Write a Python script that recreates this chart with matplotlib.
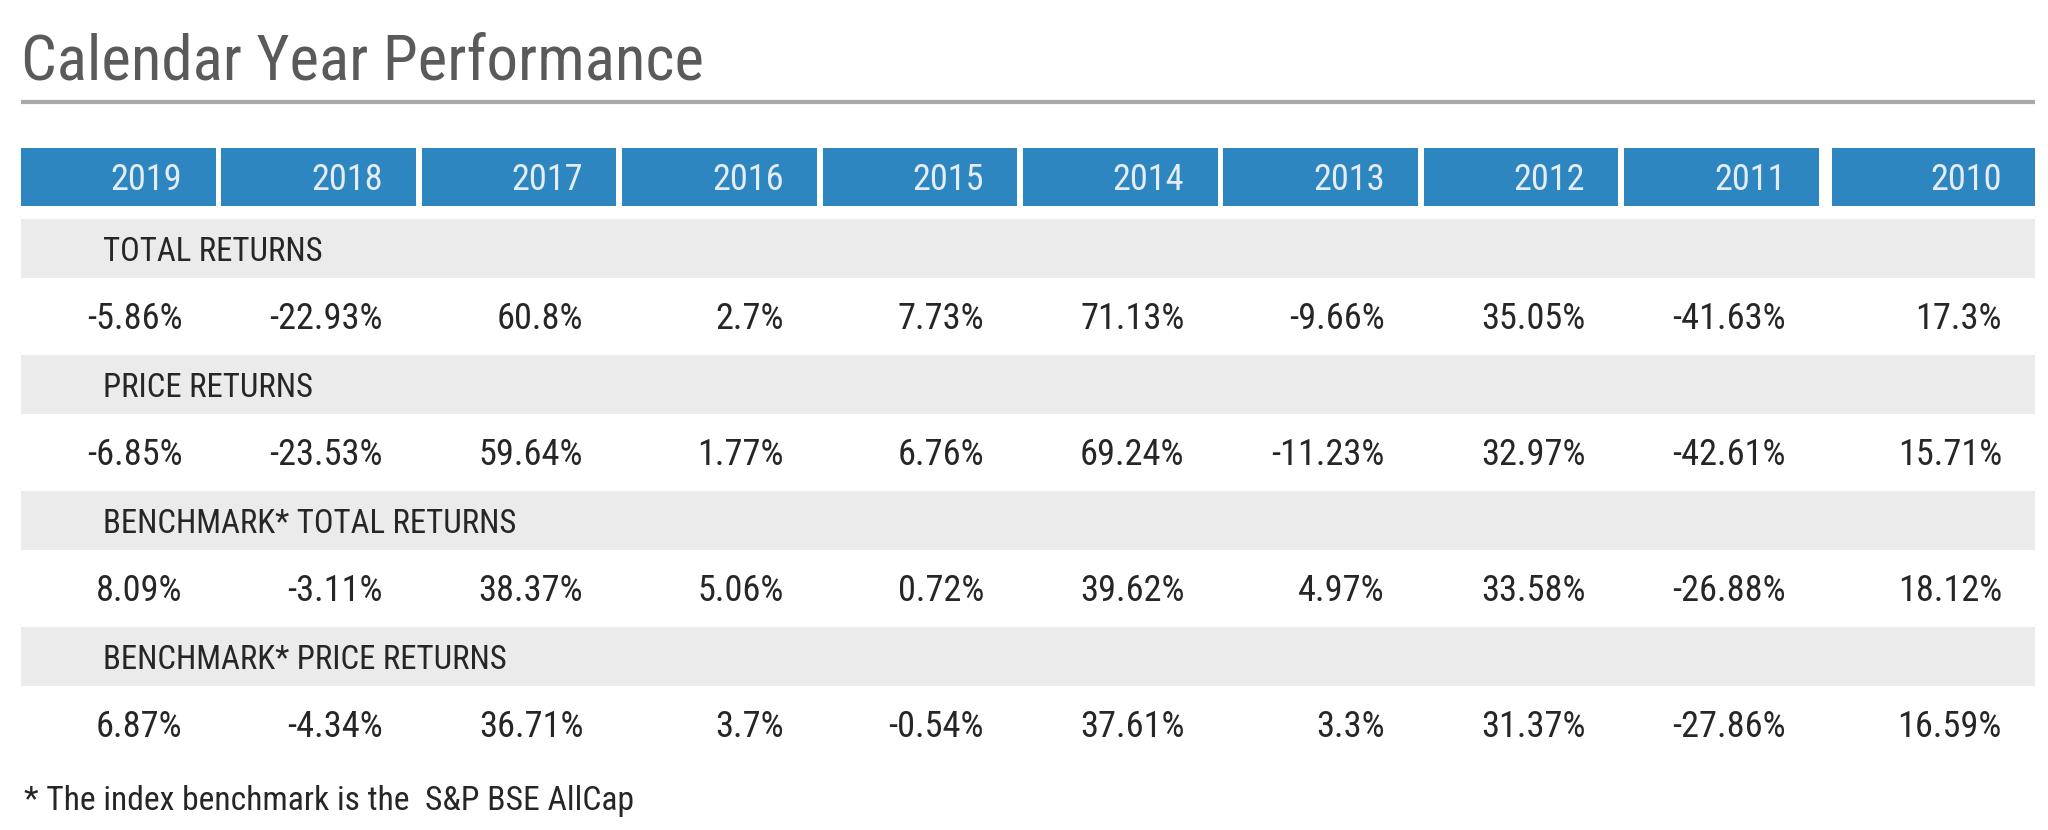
import matplotlib
matplotlib.use("Agg")
import matplotlib.pyplot as plt
from matplotlib.patches import Rectangle
from matplotlib import font_manager as fm

# ---------------- data ----------------
years = [2019, 2018, 2017, 2016, 2015, 2014, 2013, 2012, 2011, 2010]
section_labels = ["TOTAL RETURNS", "PRICE RETURNS",
                  "BENCHMARK* TOTAL RETURNS", "BENCHMARK* PRICE RETURNS"]
total_returns = [-5.86, -22.93, 60.8, 2.7, 7.73, 71.13, -9.66, 35.05, -41.63, 17.3]
price_returns = [-6.85, -23.53, 59.64, 1.77, 6.76, 69.24, -11.23, 32.97, -42.61, 15.71]
bench_total_returns = [8.09, -3.11, 38.37, 5.06, 0.72, 39.62, 4.97, 33.58, -26.88, 18.12]
bench_price_returns = [6.87, -4.34, 36.71, 3.7, -0.54, 37.61, 3.3, 31.37, -27.86, 16.59]
title = "Calendar Year Performance"
footnote = "* The index benchmark is the  S&P BSE AllCap"

series = [total_returns, price_returns, bench_total_returns, bench_price_returns]


# ---------------- font ----------------
def pick_font(cands):
    for c in cands:
        fam, stretch = c
        try:
            path = fm.findfont(fm.FontProperties(family=fam, stretch=stretch),
                               fallback_to_default=False)
            if stretch == "condensed" and "ondensed" not in path:
                continue
            return c
        except Exception:
            pass
    return ("DejaVu Sans", "normal")


FAM, STRETCH = pick_font([("Roboto Condensed", "normal"),
                          ("Liberation Sans Narrow", "normal"),
                          ("DejaVu Sans", "condensed"),
                          ("Roboto", "normal")])

# ---------------- figure ----------------
W, H = 2048, 830
fig = plt.figure(figsize=(W / 100, H / 100), dpi=100)
ax = fig.add_axes([0, 0, 1, 1])
ax.set_xlim(0, W)
ax.set_ylim(H, 0)
ax.axis("off")
renderer = fig.canvas.get_renderer()


def fit_size(s, target_w):
    t = ax.text(0, 0, s, fontsize=10, family=FAM, fontstretch=STRETCH)
    w = t.get_window_extent(renderer).width
    t.remove()
    return 10 * target_w / w


title_fs = fit_size(title, 680)
lab_fs = fit_size("BENCHMARK* PRICE RETURNS", 404)
num_fs = fit_size("-22.93%", 113)
foot_fs = fit_size(footnote, 607)

BLUE = "#2e86c1"
BAND = "#ebebeb"
TXT = "#262626"

left, right = 21, 2035
pitch, colw = 200.4, 194.5
ncol = len(years)
col_x0 = [left + i * pitch for i in range(ncol)]
col_x0[-1] += 7.5
col_x1 = [x + colw for x in col_x0]
col_x1[-1] = right
text_pad = 33

# title and rule
ax.text(left, 79, title, fontsize=title_fs, family=FAM, fontstretch=STRETCH,
        color="#5a5a5a", va="baseline", ha="left")
ax.plot([left, right], [102, 102], color="#a9a9a9", lw=3, solid_capstyle="butt")

# header
for i, y in enumerate(years):
    ax.add_patch(Rectangle((col_x0[i], 148), col_x1[i] - col_x0[i], 58,
                           facecolor=BLUE, edgecolor="none"))
    ax.text(col_x1[i] - text_pad, 190, str(y), fontsize=num_fs, family=FAM,
            fontstretch=STRETCH, color="#e4edf6", ha="right", va="baseline")

# sections
band_top0, period, band_h = 219, 136, 59
for k, (lab, vals) in enumerate(zip(section_labels, series)):
    bt = band_top0 + k * period
    ax.add_patch(Rectangle((left, bt), right - left, band_h, facecolor=BAND,
                           edgecolor="none"))
    ax.text(103, bt + 42, lab, fontsize=lab_fs, family=FAM, fontstretch=STRETCH,
            color=TXT, ha="left", va="baseline")
    for i, v in enumerate(vals):
        ax.text(col_x1[i] - text_pad, bt + 109.5, f"{v:g}%", fontsize=num_fs,
                family=FAM, fontstretch=STRETCH, color=TXT, ha="right",
                va="baseline")

ax.text(24, 810, footnote, fontsize=foot_fs, family=FAM, fontstretch=STRETCH,
        color=TXT, ha="left", va="baseline")

fig.savefig("out.png", dpi=100)
